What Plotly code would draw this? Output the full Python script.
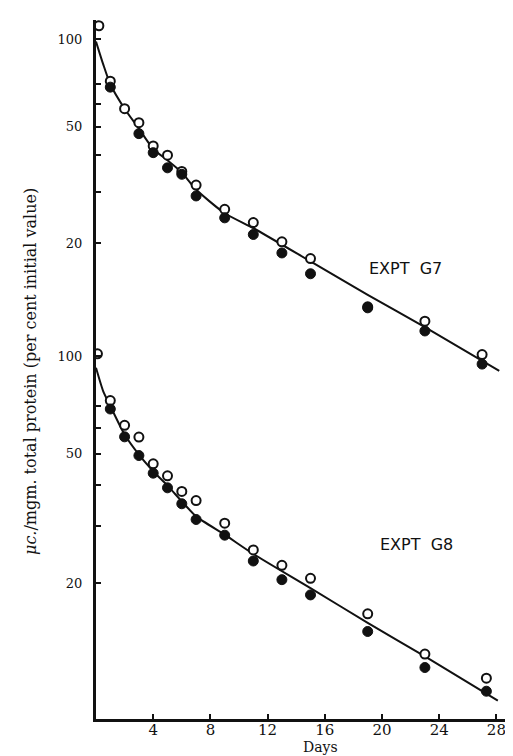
import plotly.graph_objects as go

# ---- data ----
# Expt G7 (upper panel)
g7_open_days = [0.2, 1, 2, 3, 4, 5, 6, 7, 9, 11, 13, 15, 19, 23, 27]
g7_open_vals = [111, 71.7, 57.7, 51.7, 43.0, 40.0, 35.2, 31.6, 26.1, 23.5, 20.2, 17.7, 12.1, 10.8, 8.3]
g7_fill_days = [1, 3, 4, 5, 6, 7, 9, 11, 13, 15, 19, 23, 27]
g7_fill_vals = [68.4, 47.4, 40.8, 36.2, 34.4, 29.0, 24.4, 21.4, 18.5, 15.7, 12.0, 10.0, 7.7]
g7_curve_days = [0, 0.5, 1, 2, 3, 4, 5, 6, 7, 9, 11, 15, 19, 23, 28.2]
g7_curve_vals = [98, 82, 70, 57.7, 49.3, 42, 38.4, 34.9, 30.5, 25.3, 22.5, 17.3, 13.3, 10.3, 7.3]

# Expt G8 (lower panel)
g8_open_days = [0.1, 1, 2, 3, 4, 5, 6, 7, 9, 11, 13, 15, 19, 23, 27.3]
g8_open_vals = [101.6, 72.9, 61.2, 56.3, 46.6, 42.8, 38.3, 35.9, 30.6, 25.3, 22.7, 20.7, 16.1, 12.1, 10.2]
g8_fill_days = [1, 2, 3, 4, 5, 6, 7, 9, 11, 13, 15, 19, 23, 27.3]
g8_fill_vals = [68.7, 56.4, 49.4, 43.6, 39.3, 35.1, 31.4, 28.1, 23.4, 20.5, 18.4, 14.2, 11.0, 9.3]
g8_curve_days = [0, 0.5, 1, 2, 3, 4, 5, 6, 7, 9, 11, 15, 19, 23, 28.1]
g8_curve_vals = [92, 78, 70.2, 57.3, 49.7, 44.2, 39.9, 35.7, 32.1, 28.2, 24.6, 19.3, 15.1, 11.9, 8.7]

x_ticks = [4, 8, 12, 16, 20, 24, 28]
y_tick_vals = [20, 30, 40, 50, 60, 70, 100]
y_tick_text = ["20", "", "", "50", "", "", "100"]

INK = "#111111"
SERIF = "DejaVu Serif"

fig = go.Figure()

def add_panel(cd, cv, od, ov, fd, fv, yaxis):
    fig.add_trace(go.Scatter(x=cd, y=cv, mode="lines", yaxis=yaxis,
                             line=dict(color=INK, width=2, shape="spline", smoothing=0.6),
                             hoverinfo="skip", showlegend=False))
    fig.add_trace(go.Scatter(x=od, y=ov, mode="markers", yaxis=yaxis,
                             marker=dict(symbol="circle", size=9, color="white",
                                         line=dict(color=INK, width=2)),
                             showlegend=False))
    fig.add_trace(go.Scatter(x=fd, y=fv, mode="markers", yaxis=yaxis,
                             marker=dict(symbol="circle", size=10, color=INK,
                                         line=dict(color=INK, width=1)),
                             showlegend=False))

add_panel(g8_curve_days, g8_curve_vals, g8_open_days, g8_open_vals,
          g8_fill_days, g8_fill_vals, "y")
add_panel(g7_curve_days, g7_curve_vals, g7_open_days, g7_open_vals,
          g7_fill_days, g7_fill_vals, "y2")

yaxis_common = dict(
    type="log", tickmode="array", tickvals=y_tick_vals, ticktext=y_tick_text,
    ticks="inside", ticklen=5, tickwidth=2, tickcolor=INK,
    showline=True, linewidth=3, linecolor=INK, showgrid=False, zeroline=False,
    tickfont=dict(family=SERIF, size=13, color=INK), ticklabelstandoff=8,
)

fig.update_layout(
    width=513, height=756,
    margin=dict(l=88, r=0, t=12, b=45),
    paper_bgcolor="white", plot_bgcolor="white",
    xaxis=dict(range=[0, 29.72], tickmode="array", tickvals=x_ticks,
               ticks="inside", ticklen=5, tickwidth=2, tickcolor=INK,
               showline=True, linewidth=3, linecolor=INK,
               showgrid=False, zeroline=False, anchor="y",
               ticklabelstandoff=-5,
               tickfont=dict(family=SERIF, size=15, color=INK)),
    yaxis=dict(range=[0.883, 3.034], anchor="x", **yaxis_common),
    yaxis2=dict(range=[-0.329, 2.065], anchor="x", overlaying="y", side="left",
                **yaxis_common),
    annotations=[
        dict(text="<i>μc.</i>/mgm. total protein (per cent initial value)",
             xref="paper", yref="paper", x=(22 - 88) / 425, y=(711 - 364) / 699,
             textangle=-90,
             showarrow=False, xanchor="center", yanchor="middle",
             font=dict(family=SERIF, size=16, color=INK)),
        dict(text="Days", xref="paper", yref="paper", x=(312 - 88) / 425,
             y=(711 - 739) / 699,
             showarrow=False, xanchor="center", yanchor="middle",
             font=dict(family=SERIF, size=14, color=INK)),
        dict(text="EXPT  G7", xref="paper", yref="paper",
             x=(397 - 88) / 425, y=(711 - 260.5) / 699,
             showarrow=False, xanchor="center", yanchor="middle",
             font=dict(family="DejaVu Sans", size=16, color=INK)),
        dict(text="EXPT  G8", xref="paper", yref="paper",
             x=(408 - 88) / 425, y=(711 - 536) / 699,
             showarrow=False, xanchor="center", yanchor="middle",
             font=dict(family="DejaVu Sans", size=16, color=INK)),
    ],
)

fig.write_html("out.html")
